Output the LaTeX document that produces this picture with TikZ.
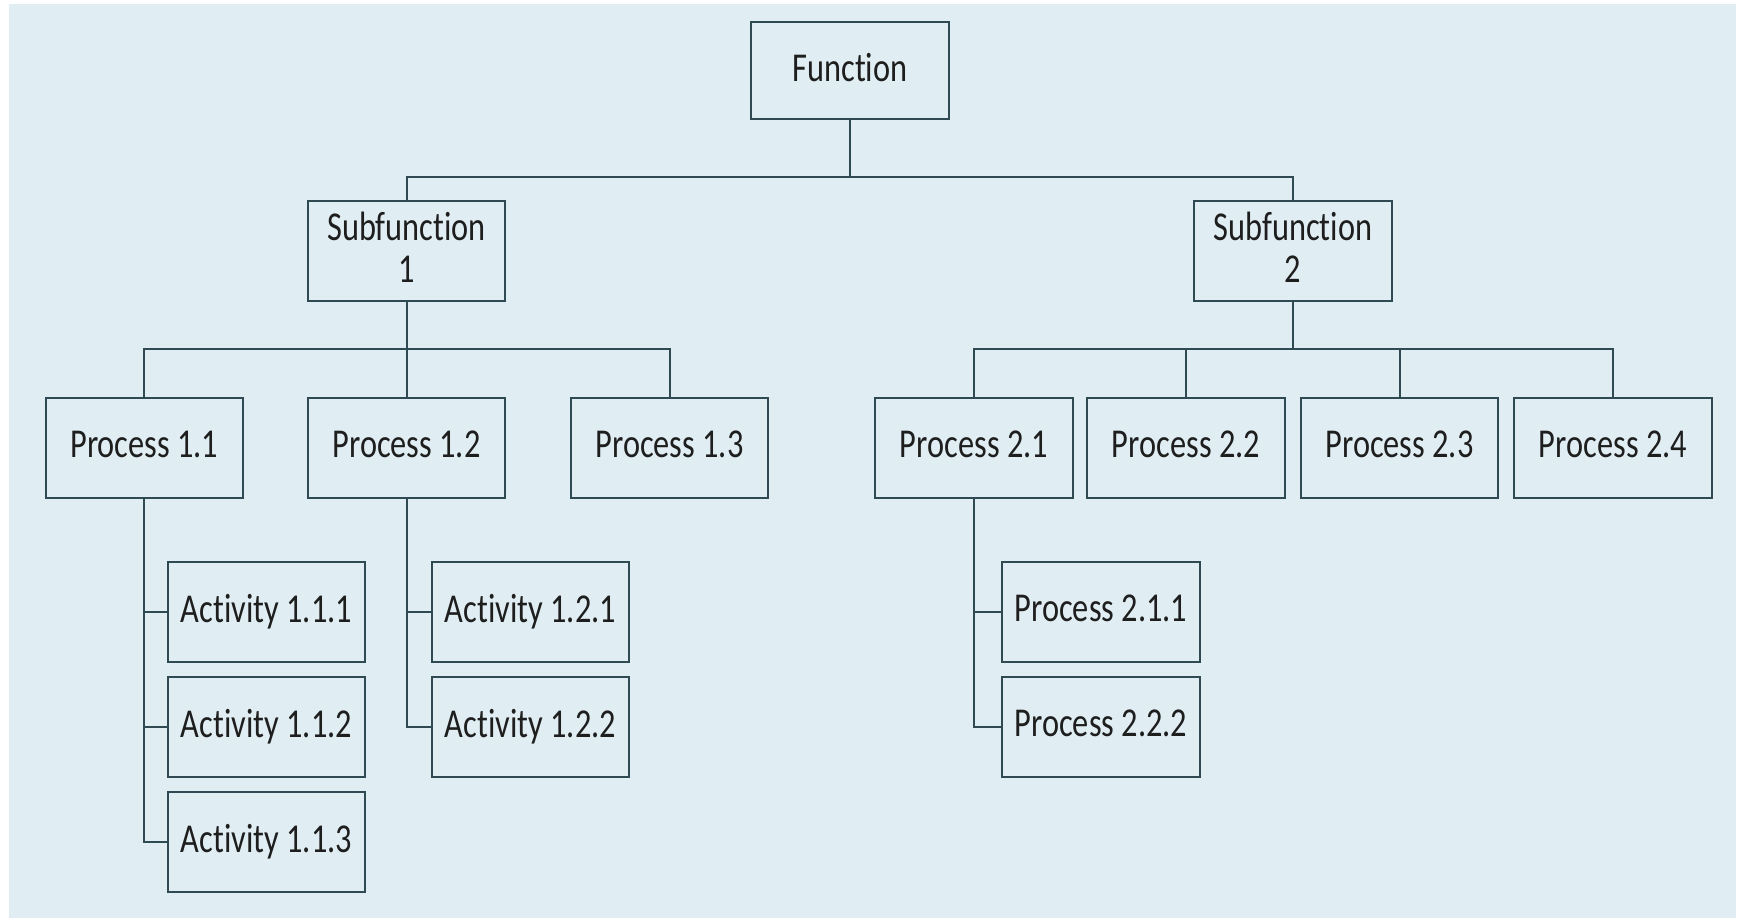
\documentclass[tikz,border=0pt]{standalone}
\usepackage{fontspec}
\setmainfont[FakeStretch=0.79,Ligatures=NoCommon]{Carlito}
\definecolor{bgc}{HTML}{E0EEF3}
\definecolor{linec}{HTML}{2F4A52}
\definecolor{textc}{HTML}{1E1E1E}
\begin{document}
\begin{tikzpicture}[x=1pt,y=-1pt,
  box/.style={draw=linec, line width=2pt, minimum width=197.5pt, minimum height=100pt,
    inner sep=0pt, align=center, text=textc, text depth=7pt, font=\fontsize{41}{42}\selectfont},
  link/.style={draw=linec, line width=2pt}]
\useasboundingbox (0,0) rectangle (1743,921);
\fill[bgc] (9,4) rectangle (1736,918);
% levels
\coordinate (lv1) at (0,177);
\coordinate (lv2) at (0,349);
% nodes
\node[box, minimum height=97.5pt] (fn) at (850,70.5) {Function};
\node[box] (s1) at (406.5,251) {Subfunction\\1};
\node[box] (s2) at (1293,251) {Subfunction\\2};
\node[box] (p11) at (144.4,448) {Process 1.1};
\node[box] (p12) at (406.5,448) {Process 1.2};
\node[box] (p13) at (669.5,448) {Process 1.3};
\node[box] (p21) at (974,448) {Process 2.1};
\node[box] (p22) at (1186,448) {Process 2.2};
\node[box] (p23) at (1399.5,448) {Process 2.3};
\node[box] (p24) at (1613,448) {Process 2.4};
\node[box] (a111) at (266.5,612) {Activity 1.1.1};
\node[box] (a112) at (266.5,727) {Activity 1.1.2};
\node[box] (a113) at (266.5,841.7) {Activity 1.1.3};
\node[box] (a121) at (530.5,612) {Activity 1.2.1};
\node[box] (a122) at (530.5,727) {Activity 1.2.2};
\node[box] (p211) at (1101,612) {Process 2.1.1};
\node[box] (p222) at (1101,727) {Process 2.2.2};
% top level
\draw[link] (fn.south) -- (fn.south |- lv1);
\draw[link] (s1.north) |- (s2.north |- lv1) -- (s2.north);
% subfunction 1
\draw[link] (s1.south) -- (p12.north);
\draw[link] (p11.north) |- (p13.north |- lv2) -- (p13.north);
% subfunction 2
\draw[link] (s2.south) -- (s2.south |- lv2);
\draw[link] (p21.north) |- (p24.north |- lv2) -- (p24.north);
\draw[link] (p22.north) -- (p22.north |- lv2);
\draw[link] (p23.north) -- (p23.north |- lv2);
% activities
\draw[link] (p11.south) |- (a113.west);
\draw[link] (a111.west) -- (a111.west -| p11.south);
\draw[link] (a112.west) -- (a112.west -| p11.south);
\draw[link] (p12.south) |- (a122.west);
\draw[link] (a121.west) -- (a121.west -| p12.south);
\draw[link] (p21.south) |- (p222.west);
\draw[link] (p211.west) -- (p211.west -| p21.south);
\end{tikzpicture}
\end{document}
